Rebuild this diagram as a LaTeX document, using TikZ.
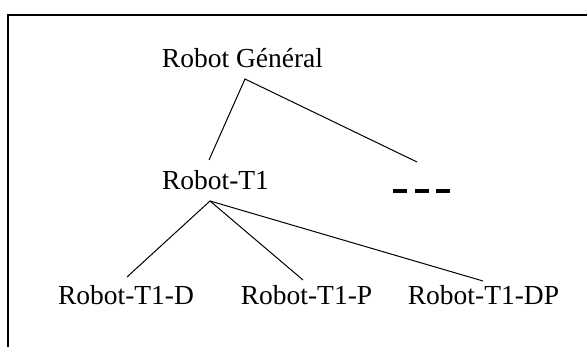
\documentclass[tikz,border=0pt]{standalone}
\usepackage{fontspec}
\setmainfont{Liberation Serif}
\usetikzlibrary{positioning}

\begin{document}
\begin{tikzpicture}[x=1pt,y=-1pt,
  lbl/.style={inner sep=0pt,anchor=base,font=\fontsize{27.5}{32}\selectfont},
  br/.style={line width=1pt},
  frm/.style={line width=1.2pt}]
  \useasboundingbox (0,0) rectangle (587,347);
  % frame
  \draw[frm] (8,347) -- (8,15) -- (587,15);
  % nodes
  \node[lbl] (gen) at (242.5,68) {Robot Général};
  \node[lbl] (t1) at (215.5,190) {Robot-T1};
  \node[lbl] (t1d) at (126,305) {Robot-T1-D};
  \node[lbl] (t1p) at (306.5,305) {Robot-T1-P};
  \node[lbl] (t1dp) at (483.5,305) {Robot-T1-DP};
  \coordinate (ga) at (245,79);
  \coordinate (ta) at (210,201);
  \coordinate (more) at (417,162);
  % dashes
  \draw[line width=4pt,dash pattern=on 14pt off 7.5pt] (393,191) -- (450,191);
  % branches
  \draw[br] (209,160) -- (ga) -- (more);
  \draw[br] (127,277) -- (ta) -- (483,281);
  \draw[br] (ta) -- (303,280);
\end{tikzpicture}
\end{document}
